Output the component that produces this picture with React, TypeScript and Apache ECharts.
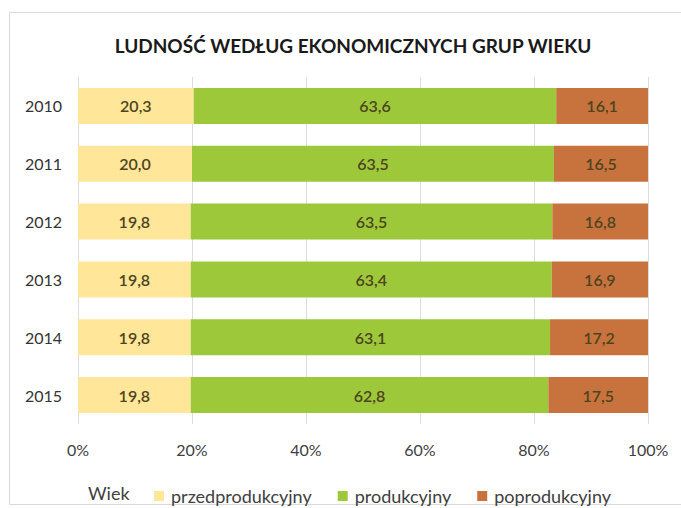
import React, { useEffect, useRef } from "react";
import * as echarts from "echarts";

const years = ["2010", "2011", "2012", "2013", "2014", "2015"];
const przedprodukcyjny = [20.3, 20.0, 19.8, 19.8, 19.8, 19.8];
const produkcyjny = [63.6, 63.5, 63.5, 63.4, 63.1, 62.8];
const poprodukcyjny = [16.1, 16.5, 16.8, 16.9, 17.2, 17.5];
const seriesNames = ["przedprodukcyjny", "produkcyjny", "poprodukcyjny"];
const xTicks = ["0%", "20%", "40%", "60%", "80%", "100%"];

const FONT = "Lato, 'Open Sans', sans-serif";

export default function App() {
  const ref = useRef<HTMLDivElement>(null);
  useEffect(() => {
    document.body.style.margin = "0";
    if (!ref.current) return;
    const chart = echarts.init(ref.current, null, { renderer: "svg" });
    const raw = [przedprodukcyjny, produkcyjny, poprodukcyjny];
    const sums = years.map((_, i) => raw.reduce((s, arr) => s + arr[i], 0));
    const colors = ["#FFE699", "#9DC83A", "#C8733D"];
    const series = raw.map((arr, k) => ({
      name: seriesNames[k],
      type: "bar",
      stack: "total",
      barWidth: 36,
      data: arr.map((v, i) => ({ value: (v / sums[i]) * 100, raw: v })),
      itemStyle: { color: colors[k] },
      label: {
        show: true,
        position: "inside",
        fontFamily: FONT,
        fontSize: 16,
        fontWeight: 600,
        color: "#4d4420",
        formatter: (p: any) => p.data.raw.toFixed(1).replace(".", ","),
      },
    }));
    chart.setOption({
      animation: false,
      backgroundColor: "#ffffff",
      title: {
        text: "LUDNOŚĆ WEDŁUG EKONOMICZNYCH GRUP WIEKU",
        left: 348,
        textAlign: "center",
        top: 31,
        textStyle: { fontFamily: FONT, fontSize: 19, fontWeight: "bold", color: "#1a1a1a" },
      },
      grid: { left: 78, right: 33, top: 77, height: 347 },
      xAxis: {
        type: "value",
        min: 0,
        max: 100,
        interval: 20,
        axisLine: { show: false },
        axisTick: { show: false },
        splitLine: { lineStyle: { color: "#dcdcdc" } },
        axisLabel: {
          margin: 17,
          fontFamily: FONT,
          fontSize: 16,
          color: "#404040",
          formatter: (v: number) => xTicks[Math.round(v / 20)],
        },
      },
      yAxis: {
        type: "category",
        inverse: true,
        data: years,
        axisLine: { show: false },
        axisTick: { show: false },
        axisLabel: { margin: 16, fontFamily: FONT, fontSize: 16, color: "#333333" },
      },
      legend: {
        data: seriesNames,
        left: 149,
        top: 482,
        itemWidth: 10,
        itemHeight: 10,
        itemGap: 26,
        icon: "rect",
        textStyle: { fontFamily: FONT, fontSize: 18, color: "#404040", padding: [0, 0, 0, 2] },
      },
      graphic: [
        {
          type: "rect",
          shape: { x: 9.5, y: 12.5, width: 680, height: 492 },
          style: { fill: "none", stroke: "#d9d9d9", lineWidth: 1 },
          silent: true,
        },
        {
          type: "text",
          x: 88,
          y: 493,
          style: {
            text: "Wiek",
            fontFamily: FONT,
            fontSize: 18,
            fill: "#404040",
            verticalAlign: "middle",
          },
        },
      ],
      series,
    });
    return () => chart.dispose();
  }, []);
  return <div ref={ref} style={{ width: 681, height: 508 }} />;
}
